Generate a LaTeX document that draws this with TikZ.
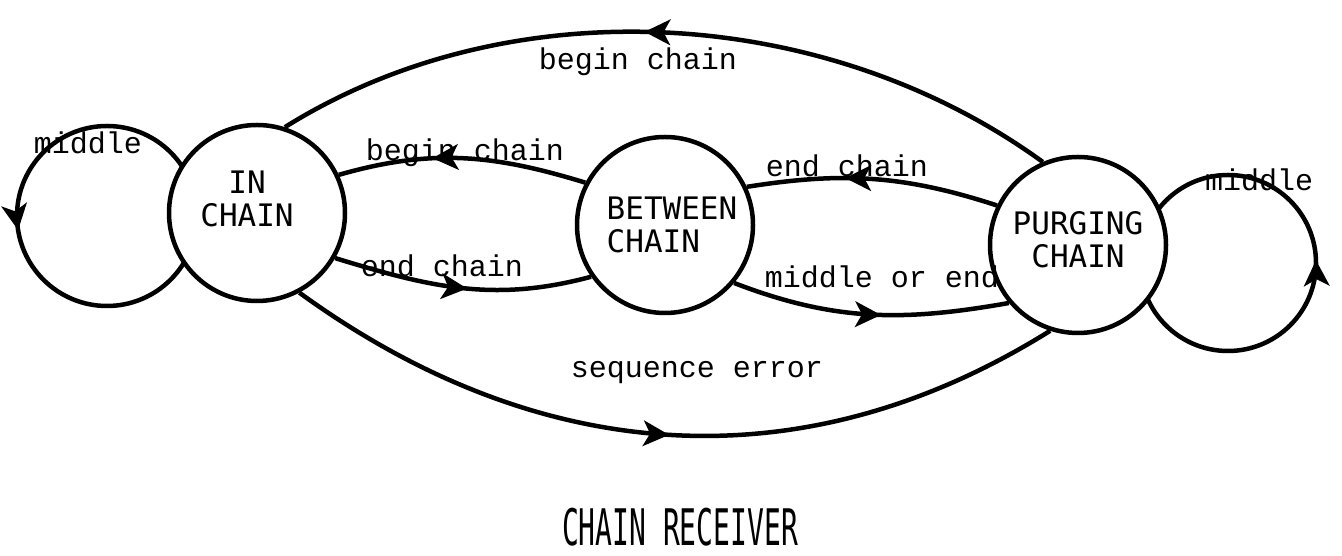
\documentclass[tikz,border=0pt]{standalone}
\usepackage{fontspec}
\usetikzlibrary{arrows.meta,decorations.markings}
\newfontfamily\lblfont{Liberation Mono}
\newfontfamily\stfont{DejaVu Sans Mono}
\pgfdeclarelayer{bg}
\pgfsetlayers{bg,main}
\begin{document}
\begin{tikzpicture}[x=1pt,y=1pt,
  state/.style={circle, draw, line width=4.5pt, minimum size=176pt, inner sep=0pt, fill=white},
  stt/.style={font=\stfont\fontsize{31}{33}\selectfont, align=center, inner sep=0pt},
  conn/.style={line width=4.5pt},
  lbl/.style={font=\lblfont\fontsize{30}{32}\selectfont, inner sep=0pt},
  midarrow/.style={postaction={decorate}, decoration={markings, mark=at position #1 with {\arrow[line width=2pt]{Stealth[length=26pt,width=26pt,inset=7pt]}}}}
]
\useasboundingbox (0,0) rectangle (1342,556);

% states
\node[state, label={[stt, shift={(-10,14)}]center:{IN\\CHAIN}}] (ic) at (257,343) {};
\node[state, label={[stt, align=left, shift={(7,0)}]center:{BETWEEN\\CHAIN}}] (bc) at (665,331) {};
\node[state, label={[stt, shift={(0,5)}]center:{PURGING\\CHAIN}}] (pc) at (1078,311) {};

% self loops
\begin{pgfonlayer}{bg}
\draw[conn, midarrow=0.525] ([shift={(-150,-3)}]ic.center) ++(0:90) arc[start angle=0, end angle=360, radius=90];
\draw[conn, midarrow=0.505] ([shift={(150,-18)}]pc.center) ++(180:88) arc[start angle=180, end angle=540, radius=88];
\end{pgfonlayer}

% connectors
\draw[conn, midarrow=0.53] (pc.113) to[out=144, in=32, looseness=0.9] (ic.72);
\draw[conn, midarrow=0.62] (bc.152) to[out=163, in=16] (ic.25);
\draw[conn, midarrow=0.52] (ic.-30) to[out=-17, in=195] (bc.215);
\draw[conn, midarrow=0.61] (pc.154) to[out=162, in=9] (bc.25);
\draw[conn, midarrow=0.54] (bc.-40) to[out=-21, in=190] (pc.220);
\draw[conn, midarrow=0.5] (ic.-62) to[out=-36, in=212] (pc.252);

% labels
\node[lbl] (l1) at (638,494) {begin chain};
\node[lbl] (l2) at (88,413) {middle};
\node[lbl] (l3) at (465,403) {begin chain};
\node[lbl] (l4) at (442,290) {end chain};
\node[lbl] (l5) at (847,390) {end chain};
\node[lbl] (l6) at (882,279) {middle or end};
\node[lbl] (l7) at (697,183) {sequence error};
\node[lbl] (l8) at (1259,376) {middle};
\node[inner sep=0pt] (title) at (680,29) {\scalebox{1}[1.8]{\stfont\fontsize{28}{30}\selectfont CHAIN RECEIVER}};
\end{tikzpicture}
\end{document}
